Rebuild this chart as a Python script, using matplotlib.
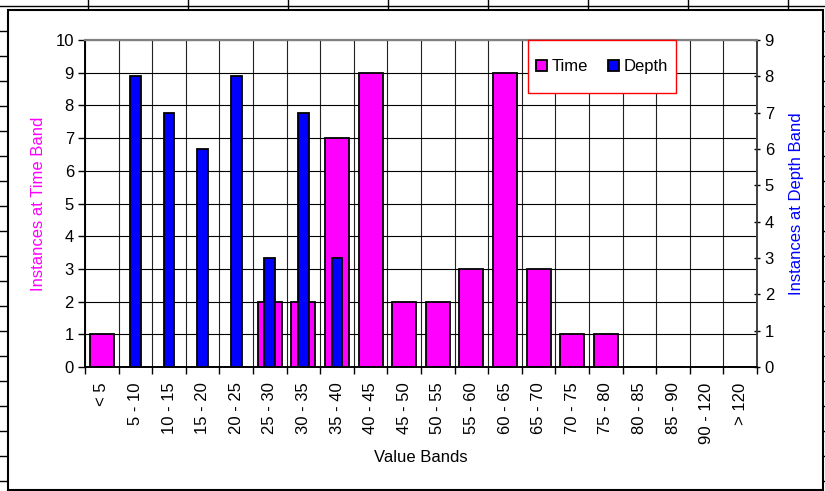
import numpy as np
import matplotlib.pyplot as plt
from matplotlib.patches import Patch, Rectangle
from matplotlib.lines import Line2D

plt.rcParams['font.family'] = ['Liberation Sans', 'DejaVu Sans']

bands = ['< 5', '5 - 10', '10 - 15', '15 - 20', '20 - 25', '25 - 30', '30 - 35',
         '35 - 40', '40 - 45', '45 - 50', '50 - 55', '55 - 60', '60 - 65', '65 - 70',
         '70 - 75', '75 - 80', '80 - 85', '85 - 90', '90 - 120', '> 120']
time_counts = [1, 0, 0, 0, 0, 2, 2, 7, 9, 2, 2, 3, 9, 3, 1, 1, 0, 0, 0, 0]
depth_counts = [0, 8, 7, 6, 8, 3, 7, 3, 0, 0, 0, 0, 0, 0, 0, 0, 0, 0, 0, 0]

W, H = 825, 491
fig = plt.figure(figsize=(W / 100, H / 100), dpi=100)


def fx(px):
    return px / W


def fy(py):
    return 1 - py / H


# spreadsheet cells behind the chart
fig.add_artist(Line2D([0, 1], [fy(6), fy(6)], color='black', lw=1, zorder=-3))
for xx in range(88, W, 100):
    fig.add_artist(Line2D([fx(xx), fx(xx)], [fy(0), fy(10)], color='black', lw=1, zorder=-3))
for yy in range(31, H, 25):
    fig.add_artist(Line2D([0, fx(8)], [fy(yy), fy(yy)], color='black', lw=1, zorder=-3))
    fig.add_artist(Line2D([fx(823), 1], [fy(yy), fy(yy)], color='black', lw=1, zorder=-3))
fig.add_artist(Rectangle((fx(8), fy(490)), fx(823) - fx(8), fy(10) - fy(490),
                         transform=fig.transFigure, facecolor='white',
                         edgecolor='black', lw=1.5, zorder=-2))

ax = fig.add_axes([fx(85), fy(367), fx(757) - fx(85), fy(40) - fy(367)])
ax2 = ax.twinx()

x = np.arange(len(bands))
ax.bar(x, time_counts, width=0.72, color='#ff00ff', edgecolor='black', lw=1.3, zorder=3)
ax2.bar(x, depth_counts, width=0.32, color='#0000ff', edgecolor='black', lw=1.3, zorder=3)

ax.set_xlim(-0.5, len(bands) - 0.5)
ax.set_ylim(0, 10)
ax2.set_ylim(0, 9)
ax.set_yticks(range(0, 11))
ax2.set_yticks(range(0, 10))

# gridlines at category boundaries and left-axis integers
ax.set_xticks(list(x - 0.5) + [len(bands) - 0.5], minor=False)
ax.set_xticklabels([])
ax.set_xticks(x, minor=True)
ax.set_xticklabels(bands, minor=True, rotation=90)
ax.tick_params(axis='x', which='minor', length=0, labelsize=12, pad=11)
ax.tick_params(axis='x', which='major', length=5, width=1, direction='out')
for b in list(x - 0.5) + [len(bands) - 0.5]:
    ax.axvline(b, color='#222222', lw=0.8, zorder=1)
for v in range(1, 11):
    ax.axhline(v, color='black', lw=0.8, zorder=1)

ax.tick_params(axis='y', length=5, width=1, labelsize=12, pad=3)
ax2.tick_params(axis='y', length=5, width=1, labelsize=12, direction='inout', pad=3)

for a in (ax, ax2):
    a.spines['top'].set_color('#808080')
    a.spines['top'].set_linewidth(1.5)
    a.spines['left'].set_linewidth(1.2)
    a.spines['bottom'].set_linewidth(1.2)
    a.spines['right'].set_color('#404040')
    a.spines['right'].set_linewidth(1.2)

ax.set_ylabel('Instances at Time Band', color='#ff00ff', fontsize=12, labelpad=7)
ax2.set_ylabel('Instances at Depth Band', color='#0000ff', fontsize=12, labelpad=11)
ax.set_xlabel('Value Bands', fontsize=12, labelpad=5)

# legend box
ax2.add_patch(Rectangle((fx(528), fy(93)), fx(676) - fx(528), fy(40) - fy(93),
                        transform=fig.transFigure, facecolor='white',
                        edgecolor='#ff0000', lw=1, zorder=4, clip_on=False))
handles = [Patch(facecolor='#ff00ff', edgecolor='black', lw=1.3, label='Time'),
           Patch(facecolor='#0000ff', edgecolor='black', lw=1.3, label='Depth')]
leg = ax2.legend(handles=handles, loc='center', ncol=2,
                 bbox_to_anchor=(fx(602), fy(66.5)), bbox_transform=fig.transFigure,
                 fontsize=12, frameon=False, borderpad=0,
                 handlelength=0.65, handleheight=0.65, handletextpad=0.3,
                 columnspacing=1.2, borderaxespad=0)
leg.set_zorder(5)

fig.savefig('out.png', dpi=100)
